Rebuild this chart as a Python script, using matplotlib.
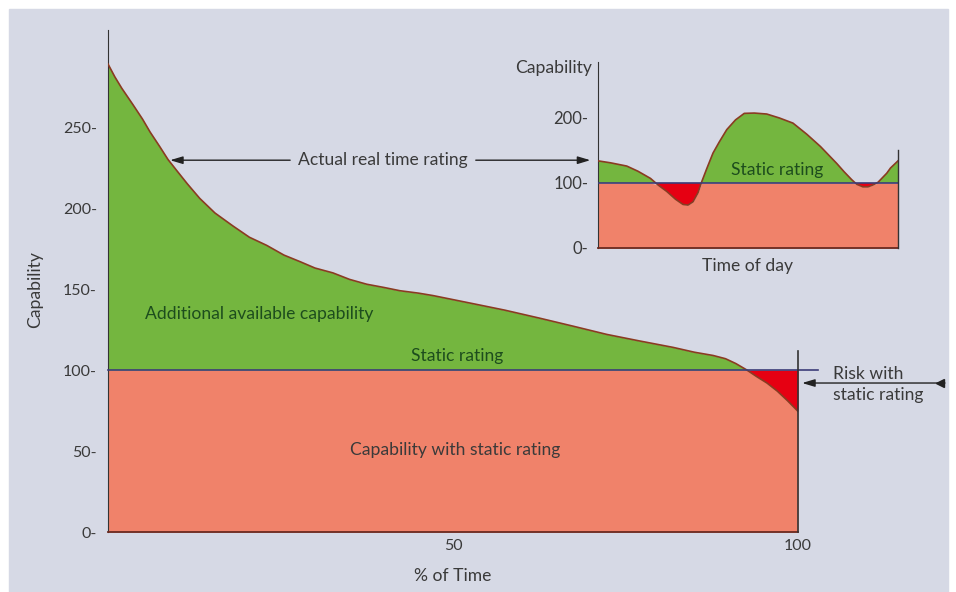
import matplotlib
matplotlib.use("Agg")
from matplotlib import pyplot as plt
from matplotlib.patches import Rectangle
import numpy as np

# main chart: rating vs % of time
pct_time = [0, 1, 2, 3.6, 5, 6.1, 7.5, 8.7, 10, 11.5, 13.3, 15.5, 18.1, 20.5,
            23, 25.5, 27.8, 30, 32.6, 35, 37.5, 40, 42.3, 45, 47.1, 50, 52.9,
            57.5, 62.6, 67.5, 72.3, 77, 81.9, 85, 87.7, 89.5, 91, 92.6,
            94, 95.5, 97, 98.5, 100]
rating = [289, 281, 274, 264, 255, 247, 238, 230, 223, 215, 206, 197, 189, 182,
          177, 171, 167, 163, 160, 156, 153, 151, 149, 147.5, 146, 143.5, 141,
          137, 132, 127, 122, 118, 114, 111, 109, 107, 104, 100,
          96, 92, 87, 81, 74.5]
static_rating = 100
y_ticks = [0, 50, 100, 150, 200, 250]
x_ticks = [50, 100]

# inset: rating over one day
hour = [0, 1, 2.3, 3.2, 4.2, 4.8, 5.5, 6.2, 6.8, 7.2, 7.6, 8.0, 8.3, 8.7, 9.2,
        9.7, 10.3, 11, 11.7, 12.5, 13.5, 14.5, 15.6, 16.7, 17.8, 19.1, 19.7,
        20.3, 20.7, 21.2, 21.6, 22, 22.4, 22.7, 23.1, 23.4, 24]
day_rating = [134, 131, 126, 118, 107, 97, 87, 75, 67, 66, 71, 85, 102, 122, 146,
              163, 182, 197, 207, 207.5, 206, 200, 192, 175, 156, 130, 117,
              105, 98, 94, 94, 97, 101, 107, 115, 123, 134]
inset_ticks = [0, 100, 200]

GREEN = "#74b63f"
SALMON = "#f0826a"
RED = "#e60012"
EDGE = "#8a3b22"
LINE = "#3c3c78"
TXT = "#3a3a3a"
GTXT = "#1d4d1d"
BG = "#d6d9e5"
FS = 12.6

plt.rcParams['font.family'] = ['Lato', 'DejaVu Sans']
plt.rcParams['font.size'] = FS

fig = plt.figure(figsize=(9.56, 5.92), dpi=100)
fig.patch.set_facecolor("white")
fig.patches.append(Rectangle((9/956, 0), (948-9)/956, 1-9/592,
                             transform=fig.transFigure, color=BG, zorder=-10))


def draw_area(ax, x, y, base):
    x = np.array(x, dtype=float)
    y = np.array(y, dtype=float)
    ax.fill_between(x, 0, np.minimum(y, base), color=SALMON, lw=0, zorder=1)
    ax.fill_between(x, base, y, where=y >= base, interpolate=True,
                    color=GREEN, lw=0, zorder=1)
    ax.fill_between(x, y, base, where=y <= base, interpolate=True,
                    color=RED, lw=0, zorder=1)
    ax.plot(x, y, color=EDGE, lw=1.2, zorder=3, solid_joinstyle="round")


def style_axes(ax):
    ax.set_facecolor("none")
    for s in ["top", "right"]:
        ax.spines[s].set_visible(False)
    ax.spines["left"].set_color("#333333")
    ax.spines["bottom"].set_color("#6a2a20")
    ax.spines["bottom"].set_linewidth(1.3)
    ax.tick_params(length=0, colors=TXT, labelsize=11.5)


# ---- main axes
ax = fig.add_axes([108/956, 1-532/592, 690/956, 502/592])
style_axes(ax)
ax.set_xlim(0, 100)
ax.set_ylim(0, 310)
draw_area(ax, pct_time, rating, static_rating)
ax.plot([0, 102.9], [static_rating, static_rating], color=LINE, lw=1.2,
        zorder=4, clip_on=False)
ax.plot([100, 100], [0, 112], color="#333333", lw=1.2, zorder=4, clip_on=False)
ax.set_yticks(y_ticks)
ax.set_yticklabels([f"{t}-" for t in y_ticks])
ax.tick_params(axis="y", pad=8)
ax.set_xticks(x_ticks)
ax.set_xticklabels([str(t) for t in x_ticks])
ax.tick_params(axis="x", pad=5)

ax.text(5.4, 134.6, "Additional available capability", color=GTXT,
        ha="left", va="center", zorder=5)
ax.text(50.6, 108.6, "Static rating", color=GTXT, ha="center", va="center", zorder=5)
ax.text(50.3, 50.6, "Capability with static rating", color=TXT,
        ha="center", va="center", zorder=5)

# actual real time rating arrows
arr = dict(arrowstyle="-|>,head_length=0.6,head_width=0.18", color="#222222",
           lw=1.0, shrinkA=0, shrinkB=0)
ax.text(39.9, 229.6, "Actual real time rating", color=TXT, ha="center",
        va="center", zorder=5)
ax.annotate("", xy=(9.0, 229.6), xytext=(26.4, 229.6), arrowprops=arr,
            annotation_clip=False)
ax.annotate("", xy=(69.9, 229.6), xytext=(53.3, 229.6), arrowprops=arr,
            annotation_clip=False)

# risk arrow
ax.annotate("", xy=(100.6, 92), xytext=(121.3, 92), arrowprops=arr,
            annotation_clip=False)
ax.plot([120.6], [92], marker="<", ms=6, color="#222222", clip_on=False)
ax.text(105.1, 97.5, "Risk with", color=TXT, ha="left", va="center")
ax.text(105.1, 84.5, "static rating", color=TXT, ha="left", va="center")

fig.text(35/956, 1-290/592, "Capability", rotation=90, ha="center",
         va="center", color=TXT)
fig.text(453/956, 1-576/592, "% of Time", ha="center", va="center", color=TXT)

# ---- inset
ins = fig.add_axes([598/956, 1-248/592, 300/956, 186/592])
style_axes(ins)
ins.set_xlim(0, 24)
ins.set_ylim(0, 286)
draw_area(ins, hour, day_rating, static_rating)
ins.plot([0, 24], [static_rating, static_rating], color=LINE, lw=1.2, zorder=4)
ins.plot([24, 24], [0, 150], color="#333333", lw=1.0, zorder=4, clip_on=False)
ins.set_yticks(inset_ticks)
ins.set_yticklabels([f"{t}-" for t in inset_ticks])
ins.tick_params(axis="y", pad=7, labelsize=12)
ins.set_xticks([])
ins.text(14.3, 120, "Static rating", color=GTXT, ha="center", va="center", zorder=5)

fig.text(592/956, 1-68/592, "Capability", ha="right", va="center", color=TXT)
fig.text(748/956, 1-266/592, "Time of day", ha="center", va="center", color=TXT)

plt.savefig("out.png", dpi=100, facecolor=fig.get_facecolor())
